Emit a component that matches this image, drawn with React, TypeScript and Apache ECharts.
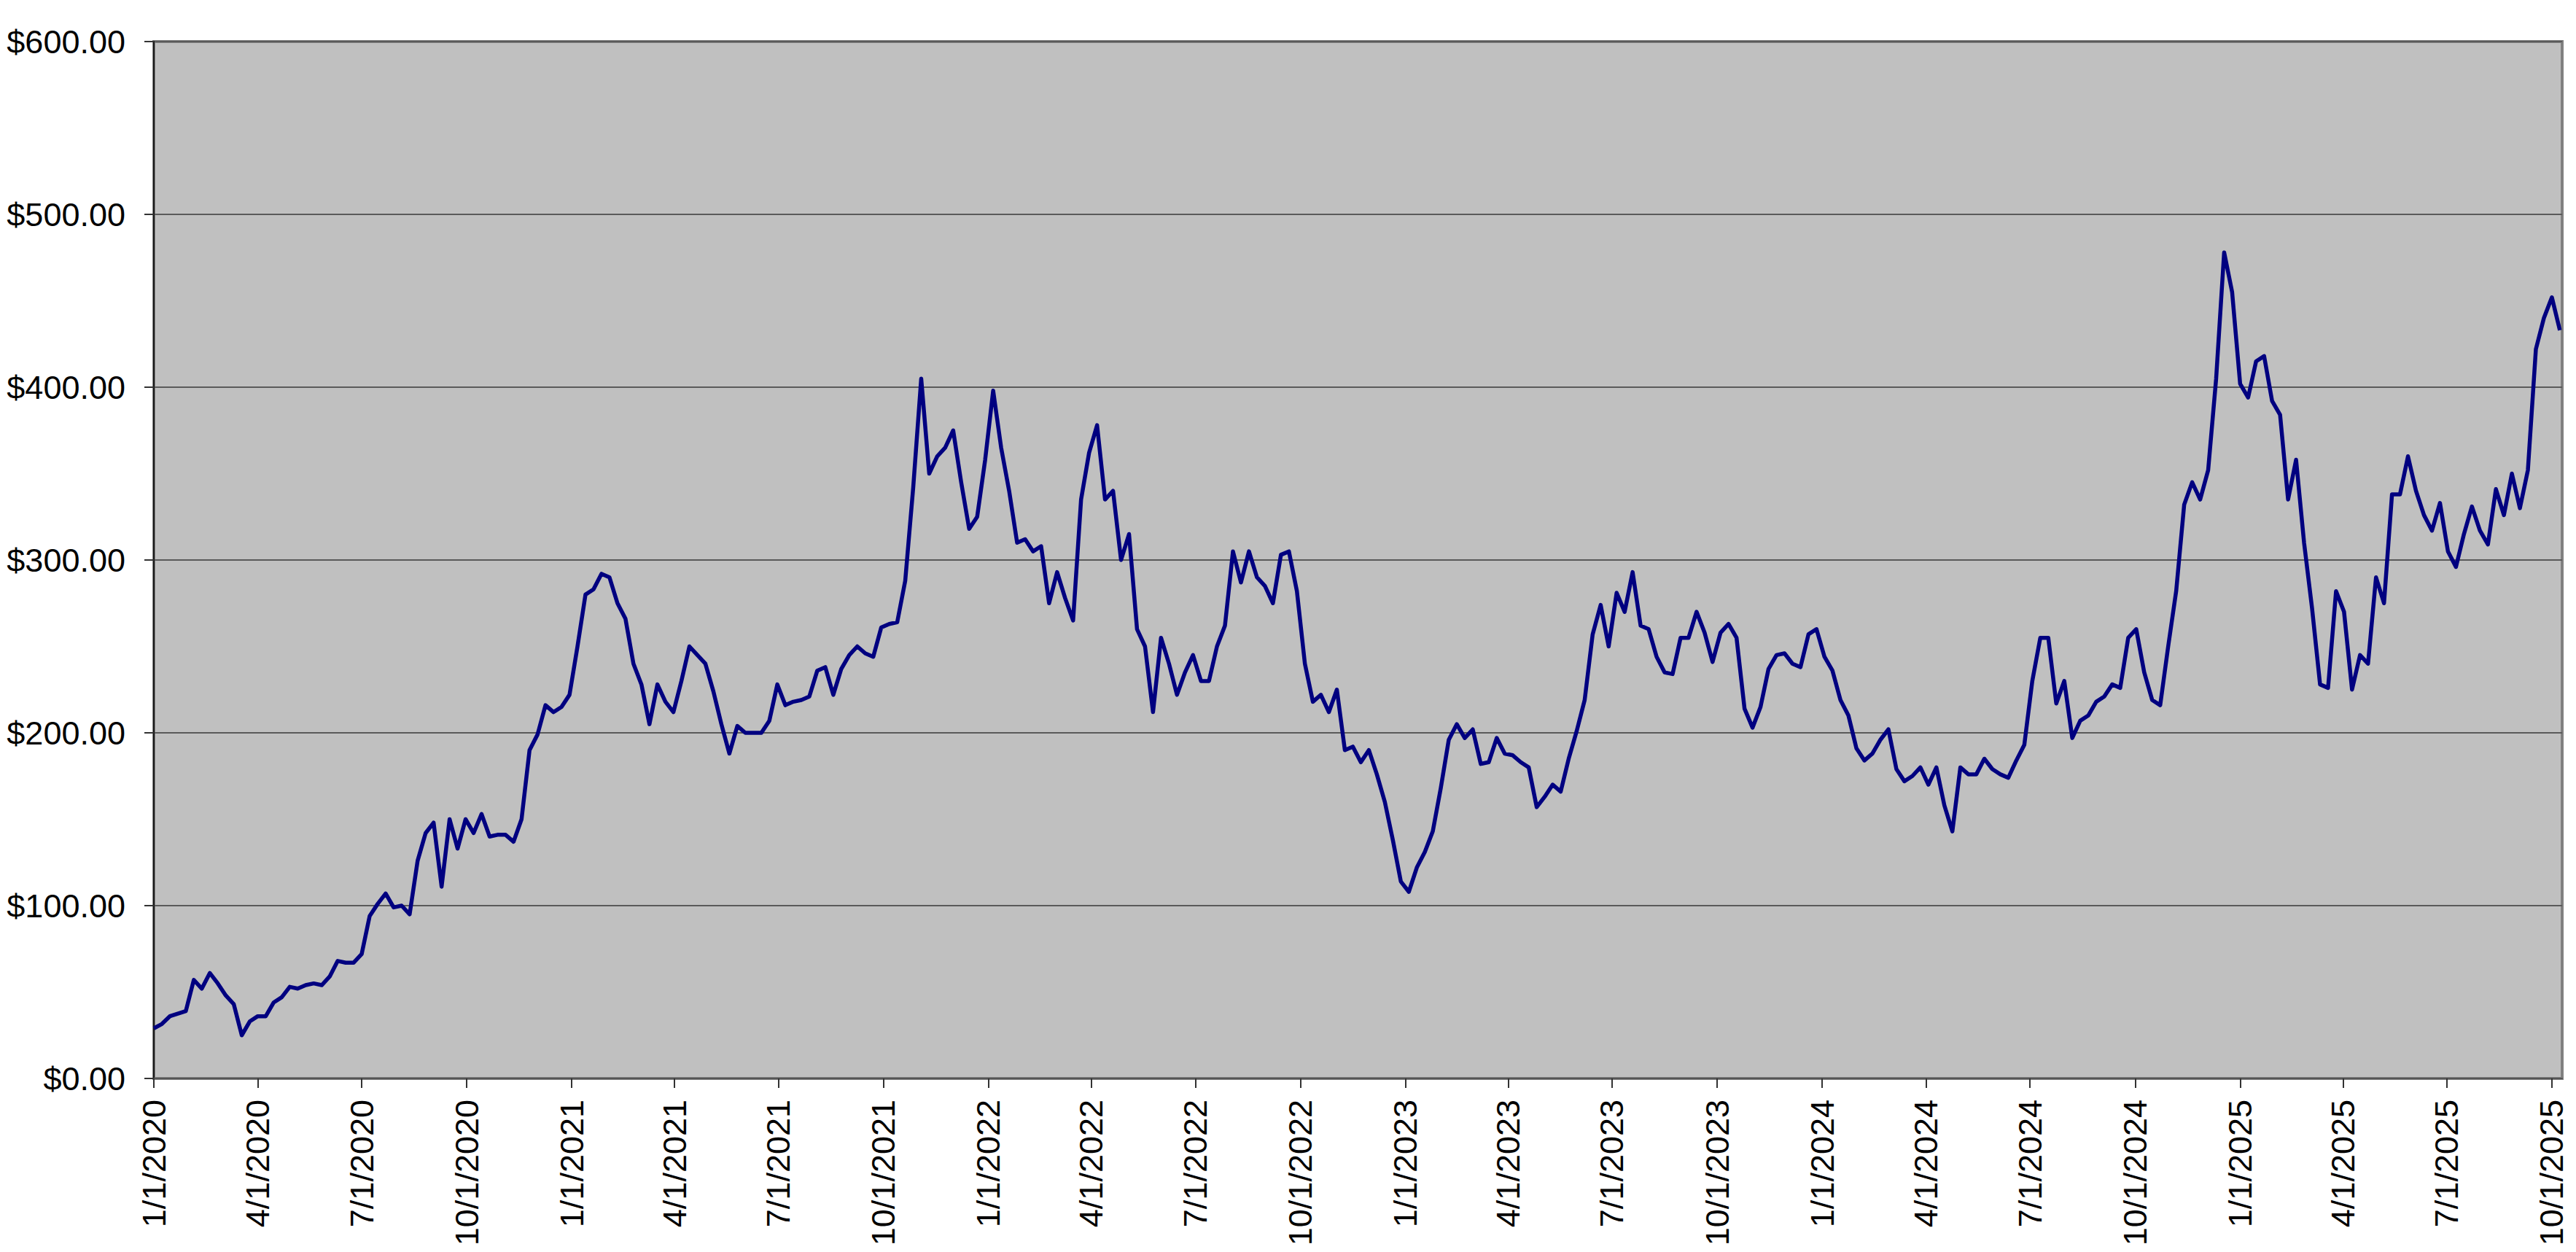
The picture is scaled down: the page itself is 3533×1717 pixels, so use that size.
import React, { useEffect, useRef } from "react";
import * as echarts from "echarts";

// Weekly closing prices, first point on 1/1/2020, one point every 7 days
const startDate = "2020-01-01";
const stepDays = 7;
const prices: number[] = [
  29, 31.5, 36, 37.5, 39, 57, 52, 61, 55, 48,
  43, 25, 33, 36, 36, 44, 47, 53, 52, 54,
  55, 54, 59, 68, 67, 67, 72, 94, 101, 107,
  99, 100, 95, 126, 142, 148, 111, 150, 133, 150,
  142, 153, 140, 141, 141, 137, 150, 190, 199, 216,
  212, 215, 222, 250, 280, 283, 292, 290, 275, 266,
  240, 228, 205, 228, 218, 212, 230, 250, 245, 240,
  224, 205, 188, 204, 200, 200, 200, 207, 228, 216,
  218, 219, 221, 236, 238, 222, 237, 245, 250, 246,
  244, 261, 263, 264, 288, 342, 405, 350, 360, 365,
  375, 345, 318, 325, 358, 398, 365, 340, 310, 312,
  305, 308, 275, 293, 278, 265, 335, 362, 378, 335,
  340, 300, 315, 260, 250, 212, 255, 240, 222, 235,
  245, 230, 230, 250, 262, 305, 287, 305, 290, 285,
  275, 303, 305, 282, 240, 218, 222, 212, 225, 190,
  192, 183, 190, 176, 160, 138, 114, 108, 122, 131,
  143, 168, 196, 205, 197, 202, 182, 183, 197, 188,
  187, 183, 180, 157, 163, 170, 166, 185, 201, 219,
  257, 274, 250, 281, 270, 293, 262, 260, 244, 235,
  234, 255, 255, 270, 258, 241, 258, 263, 255, 214,
  203, 215, 237, 245, 246, 240, 238, 257, 260, 244,
  236, 219, 210, 191, 184, 188, 196, 202, 179, 172,
  175, 180, 170, 180, 158, 143, 180, 176, 176, 185,
  179, 176, 174, 184, 193, 230, 255, 255, 217, 230,
  197, 207, 210, 218, 221, 228, 226, 255, 260, 235,
  219, 216, 250, 282, 332, 345, 335, 352, 405, 478,
  455, 402, 394, 415, 418, 392, 384, 335, 358, 310,
  272, 228, 226, 282, 270, 225, 245, 240, 290, 275,
  338, 338, 360, 340, 326, 317, 333, 305, 296, 315,
  331, 317, 309, 341, 326, 350, 330, 352, 422, 440,
  452, 433,
];

const xTickLabels: string[] = [
  "1/1/2020", "4/1/2020", "7/1/2020", "10/1/2020",
  "1/1/2021", "4/1/2021", "7/1/2021", "10/1/2021",
  "1/1/2022", "4/1/2022", "7/1/2022", "10/1/2022",
  "1/1/2023", "4/1/2023", "7/1/2023", "10/1/2023",
  "1/1/2024", "4/1/2024", "7/1/2024", "10/1/2024",
  "1/1/2025", "4/1/2025", "7/1/2025", "10/1/2025",
];
const axisEndDate = "2025-10-10";

const yMin = 0;
const yMax = 600;
const yStep = 100;

const DAY = 86400000;
const parseIso = (s: string) => {
  const [y, m, d] = s.split("-").map(Number);
  return Date.UTC(y, m - 1, d);
};
const parseMdy = (s: string) => {
  const [m, d, y] = s.split("/").map(Number);
  return Date.UTC(y, m - 1, d);
};
const origin = parseIso(startDate);
const toDay = (t: number) => Math.round((t - origin) / DAY);
const dayToLabel = (day: number) => {
  const dt = new Date(origin + day * DAY);
  return `${dt.getUTCMonth() + 1}/${dt.getUTCDate()}/${dt.getUTCFullYear()}`;
};

const tickDays = xTickLabels.map((s) => toDay(parseMdy(s)));
const maxDay = toDay(parseIso(axisEndDate));
const seriesData = prices.map((v, i) => [i * stepDays, v]);

const FONT = "'Liberation Sans', Arial, sans-serif";

export default function App() {
  const ref = useRef<HTMLDivElement>(null);
  useEffect(() => {
    if (!ref.current) return;
    const chart = echarts.init(ref.current, undefined, { renderer: "svg" });
    chart.setOption({
      animation: false,
      backgroundColor: "#ffffff",
      grid: {
        left: 211,
        right: 19,
        top: 57,
        bottom: 238,
        show: true,
        backgroundColor: "#C0C0C0",
        borderColor: "#808080",
        borderWidth: 4,
      },
      xAxis: {
        type: "value",
        min: 0,
        max: maxDay,
        splitLine: { show: false },
        axisLine: { show: true, onZero: false, lineStyle: { color: "#555555", width: 2 } },
        axisTick: {
          show: true,
          customValues: tickDays,
          length: 13,
          inside: false,
          lineStyle: { color: "#333333", width: 2 },
        },
        axisLabel: {
          customValues: tickDays,
          rotate: 90,
          margin: 29,
          fontSize: 45,
          fontFamily: FONT,
          color: "#000000",
          formatter: (v: number) => dayToLabel(v),
        },
      },
      yAxis: {
        type: "value",
        min: yMin,
        max: yMax,
        interval: yStep,
        axisLine: { show: true, lineStyle: { color: "#1a1a1a", width: 2 } },
        axisTick: { show: true, length: 13, lineStyle: { color: "#333333", width: 2 } },
        splitLine: { show: true, lineStyle: { color: "#5a5a5a", width: 2 } },
        axisLabel: {
          margin: 39,
          fontSize: 45,
          fontFamily: FONT,
          color: "#000000",
          formatter: (v: number) => `$${v.toFixed(2)}`,
        },
      },
      series: [
        {
          type: "line",
          data: seriesData,
          showSymbol: false,
          symbol: "none",
          lineStyle: { color: "#000080", width: 5.5, join: "round" },
          z: 3,
        },
      ],
    });
    return () => chart.dispose();
  }, []);
  return (
    <div
      ref={ref}
      style={{ position: "absolute", left: 0, top: 0, width: "3533px", height: "1717px" }}
    />
  );
}
